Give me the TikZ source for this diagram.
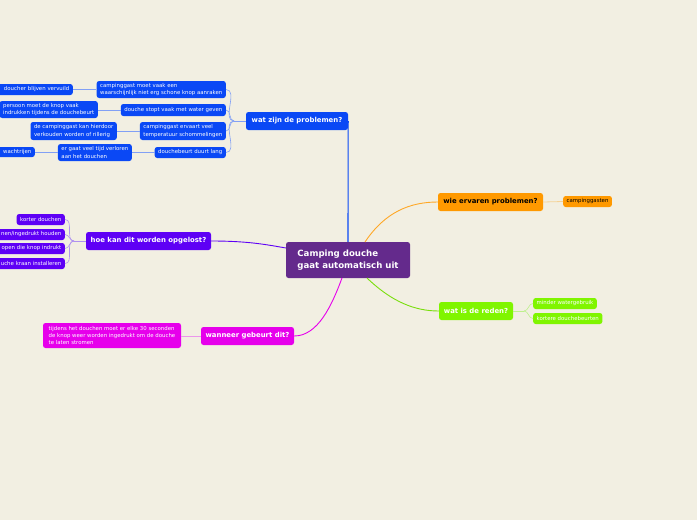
\documentclass[tikz,border=0pt]{standalone}
\usepackage{fontspec}
\setmainfont{DejaVu Sans}
\definecolor{bg}{RGB}{242,239,226}
\definecolor{cen}{RGB}{100,42,140}
\definecolor{blu}{RGB}{10,72,245}
\definecolor{bluL}{RGB}{130,160,245}
\definecolor{pur}{RGB}{94,0,245}
\definecolor{purL}{RGB}{175,145,240}
\definecolor{mag}{RGB}{230,0,235}
\definecolor{magL}{RGB}{235,150,235}
\definecolor{ora}{RGB}{255,153,0}
\definecolor{oraL}{RGB}{245,210,150}
\definecolor{gre}{RGB}{128,245,0}
\definecolor{greL}{RGB}{190,240,140}
\tikzset{
  box/.style={rounded corners=2.5pt, inner xsep=3.5pt, inner ysep=0pt, align=left, text=white},
  mainbox/.style={box, font=\fontsize{6.9}{8}\selectfont\bfseries, minimum height=18pt},
  leafbox/.style={box, font=\fontsize{5.4}{7.4}\selectfont},
}
\begin{document}
\begin{tikzpicture}[x=1pt,y=-1pt]
\fill[bg] (0,0) rectangle (697,520);
\useasboundingbox (0,0) rectangle (697,520);

% central
\node[box, fill=cen, minimum width=124pt, minimum height=36pt, font=\fontsize{8.6}{11.5}\selectfont\bfseries] (central) at (348,260) {Camping douche\\gaat automatisch uit};

% main topics
\node[mainbox, fill=blu, minimum width=102pt] (wz) at (297,121) {wat zijn de problemen?};
\node[mainbox, fill=pur, minimum width=125pt] (hk) at (148.5,241) {hoe kan dit worden opgelost?};
\node[mainbox, fill=mag, minimum width=93pt] (wg) at (247.5,336) {wanneer gebeurt dit?};
\node[mainbox, fill=ora, minimum width=105pt, text=black] (we) at (490.5,202) {wie ervaren problemen?};
\node[mainbox, fill=gre, minimum width=74pt] (wr) at (476,311) {wat is de reden?};

% connection points on central
\coordinate (cO) at (365,242);
\coordinate (cG) at (367,278);
\coordinate (cM) at (342,278);
\coordinate (cP) at (286,248);

\draw[blu, line width=1.1pt] (wz.east) -- (central.north);
\draw[ora!85, line width=0.9pt] (cO) .. controls (385,212) and (410,202) .. (we.west);
\draw[gre!90!black!95, line width=0.9pt] (cG) .. controls (392,302) and (415,311) .. (wr.west);
\draw[mag, line width=0.9pt] (cM) .. controls (332,305) and (318,336) .. (wg.east);
\draw[pur, line width=0.9pt] (hk.east) .. controls (250,241) and (268,245) .. (cP);

% blue children
\node[leafbox, fill=blu, anchor=east, minimum height=17pt] (b1) at (226,89.5) {campinggast moet vaak een\\waarschijnlijk niet erg schone knop aanraken};
\node[leafbox, fill=blu, anchor=east, minimum height=12pt] (b2) at (226,110) {douche stopt vaak met water geven};
\node[leafbox, fill=blu, anchor=east, minimum height=18pt] (b3) at (226,131) {campinggast ervaart veel\\temperatuur schommelingen};
\node[leafbox, fill=blu, anchor=east, minimum height=11pt] (b4) at (226,152.5) {douchebeurt duurt lang};

\node[leafbox, fill=blu, anchor=east, minimum height=11pt, text width=100pt, align=right] (g1) at (73,89.5) {doucher blijven vervuild};
\node[leafbox, fill=blu, anchor=east, minimum height=17pt] (g2) at (98,109.5) {persoon moet de knop vaak\\indrukken tijdens de douchebeurt};
\node[leafbox, fill=blu, anchor=east, minimum height=18pt] (g3) at (117,131) {de campinggast kan hierdoor\\verkouden worden of rillerig};
\node[leafbox, fill=blu, anchor=east, minimum height=17pt] (g4) at (132,152.5) {er gaat veel tijd verloren\\aan het douchen};
\node[leafbox, fill=blu, anchor=east, minimum height=10pt, text width=50pt, align=right] (g5) at (35,152) {wachtrijen};

\coordinate (bj) at (234,121);
\draw[bluL, line width=0.6pt] (wz.west) -- (bj);
\foreach \n in {b1,b2,b3,b4} \draw[bluL, line width=0.6pt] (bj) to[out=180,in=0] (\n.east);
\draw[bluL, line width=0.6pt] (b1.west) -- (g1.east);
\draw[bluL, line width=0.6pt] (b2.west) -- (b2.west -| g2.east);
\draw[bluL, line width=0.6pt] (b3.west) -- (g3.east);
\draw[bluL, line width=0.6pt] (b4.west) -- (g4.east);
\draw[bluL, line width=0.6pt] (g4.west) -- (g4.west -| g5.east);

% purple children
\node[leafbox, fill=pur, anchor=east, minimum height=11pt] (p1) at (65,219.5) {korter douchen};
\node[leafbox, fill=pur, anchor=east, minimum height=11pt, text width=90pt, align=right] (p2) at (65,234.5) {nen/ingedrukt houden};
\node[leafbox, fill=pur, anchor=east, minimum height=11pt, text width=90pt, align=right] (p3) at (65,248.5) {open die knop indrukt};
\node[leafbox, fill=pur, anchor=east, minimum height=11pt, text width=90pt, align=right] (p4) at (65,263.5) {uche kraan installeren};
\coordinate (pj) at (74,241);
\draw[purL, line width=0.6pt] (hk.west) -- (pj);
\foreach \n in {p1,p2,p3,p4} \draw[purL, line width=0.6pt] (pj) to[out=180,in=0] (\n.east);

% magenta child
\node[leafbox, fill=mag, minimum width=138pt, minimum height=25pt, font=\fontsize{5.4}{7.2}\selectfont] (m1) at (112,335.5) {tijdens het douchen moet er elke 30 seconden\\de knop weer worden ingedrukt om de douche\\te laten stromen};
\draw[magL, line width=0.6pt] (wg.west) -- (m1.east |- wg.west);

% orange child
\node[leafbox, fill=ora, text=black, anchor=west, minimum height=11pt] (o1) at (563,201.5) {campinggasten};
\draw[oraL, line width=0.8pt] (we.east) -- (o1.west);

% green children
\node[leafbox, fill=gre, anchor=west, minimum height=11pt] (r1) at (533,303.5) {minder watergebruik};
\node[leafbox, fill=gre, anchor=west, minimum height=11pt] (r2) at (533,318.5) {kortere douchebeurten};
\coordinate (rj) at (524,311);
\draw[greL, line width=0.6pt] (wr.east) -- (rj);
\foreach \n in {r1,r2} \draw[greL, line width=0.6pt] (rj) to[out=0,in=180] (\n.west);
\end{tikzpicture}
\end{document}
